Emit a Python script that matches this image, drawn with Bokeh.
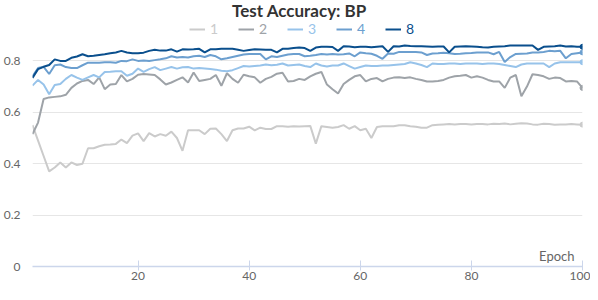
from bokeh.plotting import figure
from bokeh.models import Legend, LegendItem, Label, FixedTicker, Range1d
from bokeh.embed import file_html
from bokeh.resources import INLINE

epochs = list(range(1, 101))

acc_1 = [0.55, 0.49, 0.43, 0.37, 0.385, 0.405, 0.385, 0.405, 0.395, 0.40,
         0.46, 0.46, 0.468, 0.474, 0.475, 0.477, 0.494, 0.48, 0.509, 0.518,
         0.488, 0.519, 0.506, 0.515, 0.509, 0.525, 0.50, 0.45, 0.53, 0.53,
         0.53, 0.515, 0.536, 0.537, 0.515, 0.488, 0.53, 0.537, 0.537, 0.544,
         0.53, 0.54, 0.535, 0.535, 0.546, 0.546, 0.544, 0.546, 0.545, 0.546,
         0.547, 0.478, 0.546, 0.543, 0.54, 0.543, 0.55, 0.536, 0.546, 0.53,
         0.536, 0.50, 0.543, 0.546, 0.546, 0.546, 0.55, 0.55, 0.546, 0.544,
         0.54, 0.54, 0.55, 0.552, 0.553, 0.554, 0.553, 0.554, 0.554, 0.553,
         0.554, 0.554, 0.553, 0.555, 0.554, 0.556, 0.553, 0.555, 0.557, 0.556,
         0.553, 0.552, 0.555, 0.554, 0.552, 0.553, 0.553, 0.554, 0.553, 0.552]

acc_2 = [0.515, 0.56, 0.652, 0.658, 0.66, 0.662, 0.668, 0.695, 0.712, 0.722,
         0.726, 0.71, 0.736, 0.69, 0.708, 0.71, 0.745, 0.72, 0.73, 0.746,
         0.749, 0.747, 0.745, 0.728, 0.708, 0.716, 0.726, 0.736, 0.716, 0.755,
         0.722, 0.726, 0.73, 0.745, 0.703, 0.752, 0.73, 0.715, 0.746, 0.74,
         0.736, 0.715, 0.73, 0.738, 0.75, 0.754, 0.72, 0.722, 0.73, 0.726,
         0.74, 0.75, 0.757, 0.708, 0.69, 0.673, 0.71, 0.726, 0.74, 0.745,
         0.72, 0.73, 0.733, 0.72, 0.73, 0.735, 0.736, 0.733, 0.736, 0.73,
         0.726, 0.72, 0.72, 0.722, 0.726, 0.735, 0.74, 0.742, 0.745, 0.735,
         0.74, 0.735, 0.726, 0.72, 0.72, 0.695, 0.735, 0.745, 0.662, 0.70,
         0.748, 0.745, 0.74, 0.73, 0.735, 0.733, 0.72, 0.722, 0.72, 0.695]

acc_3 = [0.704, 0.726, 0.708, 0.67, 0.706, 0.71, 0.73, 0.745, 0.735, 0.726,
         0.736, 0.745, 0.736, 0.757, 0.758, 0.76, 0.76, 0.742, 0.75, 0.77,
         0.757, 0.768, 0.776, 0.764, 0.77, 0.776, 0.77, 0.775, 0.776, 0.77,
         0.772, 0.77, 0.768, 0.766, 0.762, 0.76, 0.764, 0.772, 0.78, 0.778,
         0.78, 0.782, 0.786, 0.783, 0.785, 0.79, 0.782, 0.784, 0.786, 0.78,
         0.776, 0.79, 0.782, 0.778, 0.782, 0.782, 0.79, 0.78, 0.77, 0.776,
         0.782, 0.78, 0.78, 0.782, 0.782, 0.784, 0.786, 0.788, 0.795, 0.79,
         0.784, 0.776, 0.79, 0.788, 0.788, 0.79, 0.79, 0.788, 0.79, 0.79,
         0.79, 0.788, 0.79, 0.79, 0.788, 0.784, 0.78, 0.776, 0.786, 0.79,
         0.79, 0.79, 0.79, 0.776, 0.79, 0.795, 0.795, 0.795, 0.795, 0.795]

acc_4 = [0.74, 0.772, 0.777, 0.749, 0.783, 0.786, 0.776, 0.772, 0.772, 0.783,
         0.793, 0.793, 0.793, 0.795, 0.795, 0.793, 0.80, 0.799, 0.806, 0.80,
         0.802, 0.80, 0.803, 0.806, 0.81, 0.818, 0.813, 0.815, 0.813, 0.818,
         0.82, 0.815, 0.823, 0.818, 0.806, 0.81, 0.815, 0.82, 0.825, 0.827,
         0.827, 0.827, 0.806, 0.818, 0.815, 0.82, 0.825, 0.827, 0.827, 0.818,
         0.82, 0.823, 0.827, 0.825, 0.827, 0.825, 0.826, 0.829, 0.818, 0.833,
         0.83, 0.828, 0.82, 0.808, 0.829, 0.828, 0.835, 0.835, 0.835, 0.835,
         0.833, 0.823, 0.829, 0.83, 0.832, 0.83, 0.827, 0.828, 0.83, 0.831,
         0.833, 0.833, 0.833, 0.826, 0.835, 0.796, 0.815, 0.827, 0.828, 0.829,
         0.833, 0.833, 0.835, 0.839, 0.838, 0.839, 0.81, 0.827, 0.83, 0.833]

acc_8 = [0.734, 0.768, 0.777, 0.784, 0.806, 0.80, 0.80, 0.812, 0.817, 0.826,
         0.818, 0.82, 0.823, 0.826, 0.83, 0.833, 0.839, 0.833, 0.83, 0.83,
         0.832, 0.839, 0.843, 0.84, 0.84, 0.845, 0.836, 0.845, 0.844, 0.845,
         0.847, 0.833, 0.845, 0.845, 0.847, 0.847, 0.847, 0.843, 0.839, 0.842,
         0.845, 0.844, 0.843, 0.843, 0.833, 0.847, 0.847, 0.85, 0.852, 0.85,
         0.839, 0.852, 0.855, 0.855, 0.854, 0.839, 0.857, 0.856, 0.853, 0.855,
         0.855, 0.853, 0.855, 0.857, 0.835, 0.857, 0.856, 0.86, 0.858, 0.857,
         0.857, 0.856, 0.855, 0.856, 0.856, 0.833, 0.855, 0.856, 0.857, 0.856,
         0.855, 0.853, 0.852, 0.855, 0.856, 0.857, 0.86, 0.86, 0.86, 0.86,
         0.86, 0.843, 0.855, 0.856, 0.857, 0.86, 0.856, 0.857, 0.855, 0.855]

series_names = ["1", "2", "3", "4", "8"]
series_values = [acc_1, acc_2, acc_3, acc_4, acc_8]
series_colors = ["#cbcbcb", "#9ea3a8", "#97c3ea", "#6c9fcf", "#0a4f8d"]

y_ticks = [0, 0.2, 0.4, 0.6, 0.8]
y_tick_labels = ["0", "0.2", "0.4", "0.6", "0.8"]
x_ticks = [20, 40, 60, 80, 100]

title_text = "Test Accuracy: BP"
x_title = "Epoch"

FONT = "Lato"
W, H = 590, 284
TOP, LEFT, RIGHT, BOTTOM = 0, 32, 8, 18
FH = H - TOP - BOTTOM  # expected frame height

p = figure(width=W, height=H,
           x_range=Range1d(1, 100), y_range=Range1d(0, 1.035),
           output_backend="svg", toolbar_location=None,
           min_border_left=LEFT, min_border_right=RIGHT,
           min_border_top=TOP, min_border_bottom=BOTTOM)
p.outline_line_color = None
p.border_fill_color = "white"
p.background_fill_color = "white"

p.xgrid.visible = False
p.ygrid.ticker = FixedTicker(ticks=y_ticks)
p.ygrid.grid_line_color = "#e6e6e6"

xa = p.xaxis[0]
xa.ticker = FixedTicker(ticks=x_ticks)
xa.axis_line_color = "#ccd6eb"
xa.axis_line_width = 1.5
xa.major_tick_line_color = "#ccd6eb"
xa.major_tick_in = 6
xa.major_tick_out = 4
xa.minor_tick_line_color = None
xa.major_label_text_font = FONT
xa.major_label_text_font_size = "12px"
xa.major_label_text_color = "#666666"
xa.major_label_standoff = 1

ya = p.yaxis[0]
ya.ticker = FixedTicker(ticks=y_ticks)
ya.major_label_overrides = {t: l for t, l in zip(y_ticks, y_tick_labels)}
ya.axis_line_color = None
ya.major_tick_line_color = None
ya.minor_tick_line_color = None
ya.major_label_text_font = FONT
ya.major_label_text_font_size = "12px"
ya.major_label_text_color = "#666666"
ya.major_label_standoff = 6

renderers = []
for name, vals, col in zip(series_names, series_values, series_colors):
    r = p.line(epochs, vals, line_color=col, line_width=2)
    p.scatter([epochs[-1]], [vals[-1]], size=5, fill_color=col, line_color=col)
    renderers.append(r)

# legend: one small legend per series so each label carries its series colour
leg_x0, leg_dx = 157, 49
leg_y = FH - 37
for i, (name, r, col) in enumerate(zip(series_names, renderers, series_colors)):
    lg = Legend(items=[LegendItem(label=name, renderers=[r])],
                location=(leg_x0 + i * leg_dx, leg_y),
                orientation="horizontal",
                padding=0, margin=0, spacing=0,
                glyph_width=16, glyph_height=16, label_height=16,
                label_standoff=5,
                label_text_font=FONT, label_text_font_size="14px",
                label_text_color=col,
                border_line_color=None, background_fill_alpha=0)
    p.add_layout(lg, "center")

p.add_layout(Label(x=267, y=FH - 10, x_units="screen", y_units="screen",
                   text=title_text, text_align="center", text_baseline="alphabetic",
                   text_font=FONT, text_font_size="17px", text_font_style="bold",
                   text_color="#333333"))

p.add_layout(Label(x=100, y=0, x_offset=-8, y_offset=3,
                   text=x_title, text_align="right", text_baseline="bottom",
                   text_font=FONT, text_font_size="13px", text_color="#666666"))

open("out.html", "w").write(file_html(p, INLINE))
